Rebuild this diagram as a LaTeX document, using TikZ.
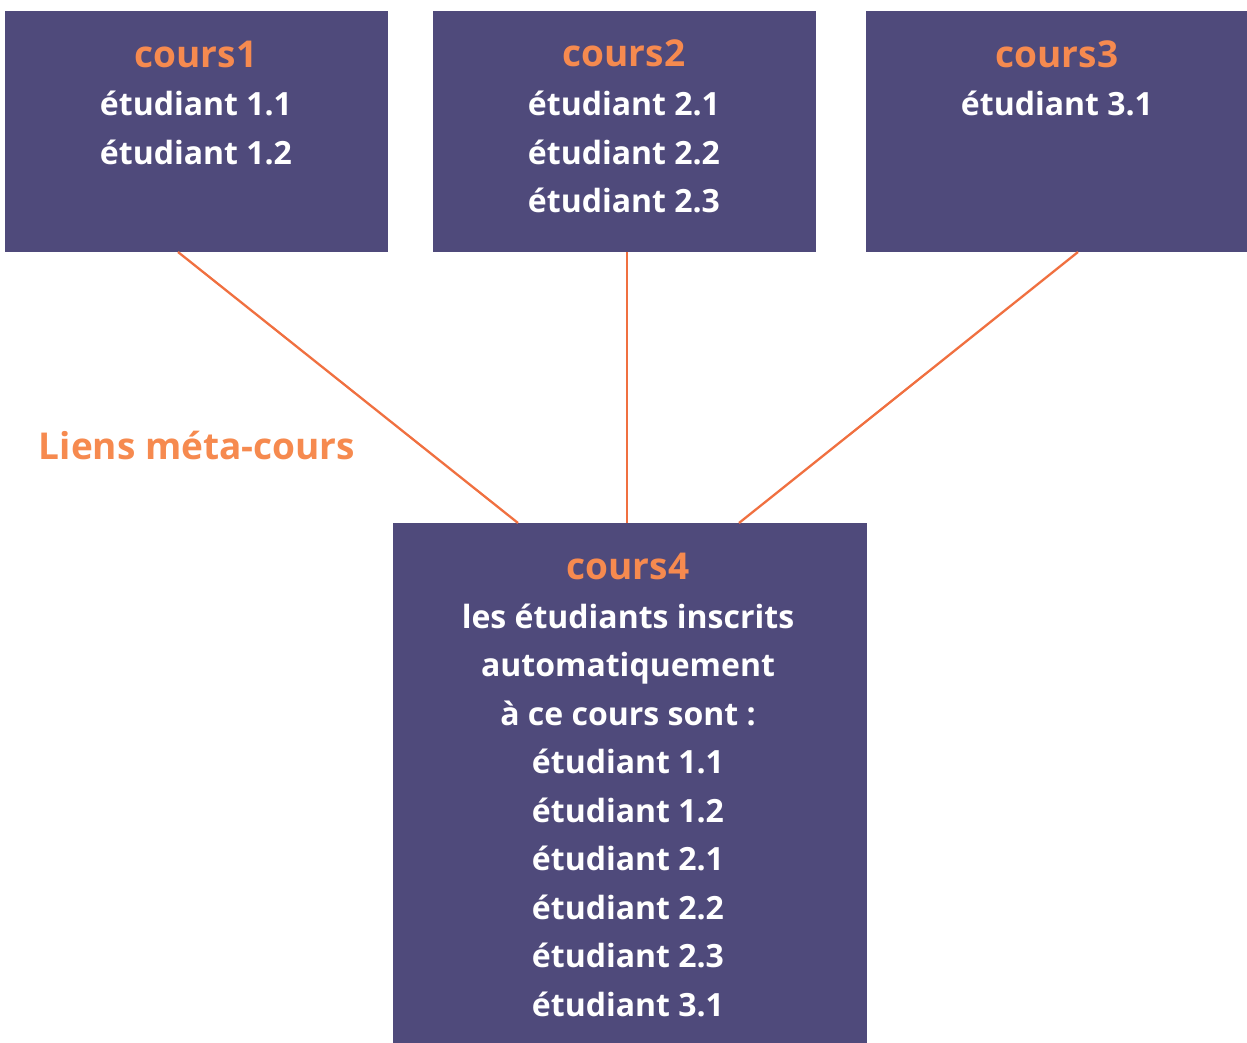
\documentclass[tikz,border=0pt]{standalone}
\usepackage{fontspec}
\setmainfont{Open Sans}
\definecolor{boxc}{HTML}{4F4A7B}
\definecolor{orng}{HTML}{F68A4F}
\definecolor{lnk}{HTML}{F07040}
\begin{document}
\begin{tikzpicture}[x=1pt,y=-1pt,
 box/.style={fill=boxc, draw=none, inner sep=0pt, outer sep=0pt},
 ttl/.style={anchor=base, text=orng, font=\fontsize{37}{37}\selectfont\bfseries, inner sep=0pt},
 txt/.style={anchor=base, text=white, font=\fontsize{32}{32}\selectfont\bfseries, inner sep=0pt},
 link/.style={draw=lnk, line width=2.3pt}]
\useasboundingbox (0,0) rectangle (1247,1043);
\node[box, minimum width=383pt, minimum height=241pt] (c1) at (196.5,131.5) {};
\node[box, minimum width=383pt, minimum height=241pt] (c2) at (624.5,131.5) {};
\node[box, minimum width=381pt, minimum height=241pt] (c3) at (1056.5,131.5) {};
\node[box, minimum width=474pt, minimum height=520pt] (c4) at (630,783) {};
% titles
\node[ttl] (t1) at (196,68) {cours1};
\node[ttl] (t2) at (624,67) {cours2};
\node[ttl] (t3) at (1057,68) {cours3};
\node[ttl] (t4) at (628,579) {cours4};
% cours1
\node[txt] (a11) at (196,116) {étudiant 1.1};
\node[txt] (a12) at (196,165) {étudiant 1.2};
% cours2
\node[txt] (a21) at (624,116) {étudiant 2.1};
\node[txt] (a22) at (624,165) {étudiant 2.2};
\node[txt] (a23) at (624,213) {étudiant 2.3};
% cours3
\node[txt] (a31) at (1057,116) {étudiant 3.1};
% cours4
\node[txt] (b1) at (628,628) {les étudiants inscrits};
\node[txt] (b2) at (628,676) {automatiquement};
\node[txt] (b3) at (628,725) {à ce cours sont :};
\node[txt] (b4) at (628,773) {étudiant 1.1};
\node[txt] (b5) at (628,822) {étudiant 1.2};
\node[txt] (b6) at (628,870) {étudiant 2.1};
\node[txt] (b7) at (628,919) {étudiant 2.2};
\node[txt] (b8) at (628,967) {étudiant 2.3};
\node[txt] (b9) at (628,1016) {étudiant 3.1};
% label
\node[ttl] (lbl) at (197,459) {Liens méta-cours};
% links
\draw[link] ([xshift=-18.5pt]c1.south) -- ([xshift=-112pt]c4.north);
\draw[link] ([xshift=2.5pt]c2.south) -- ([xshift=-3pt]c4.north);
\draw[link] ([xshift=21.5pt]c3.south) -- ([xshift=109pt]c4.north);
\end{tikzpicture}
\end{document}
